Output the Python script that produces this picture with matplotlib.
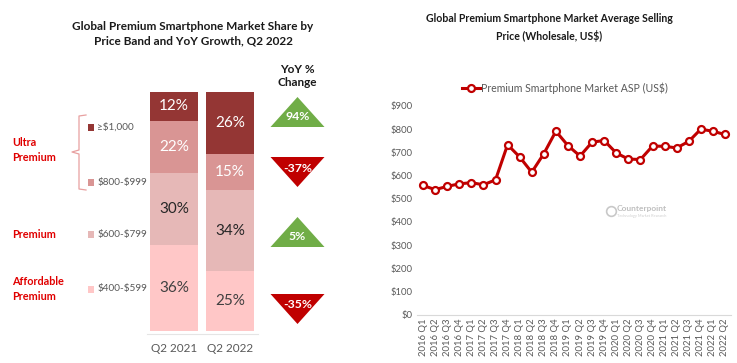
import matplotlib
matplotlib.use("Agg")
import matplotlib.pyplot as plt
from matplotlib.patches import Polygon
import numpy as np

plt.rcParams['font.family'] = ['Lato', 'DejaVu Sans']
plt.rcParams['text.parse_math'] = False

# ---------------- data ----------------
periods = ["Q2 2021", "Q2 2022"]
bands = ["$400-$599", "$600-$799", "$800-$999", "≥$1,000"]
share_2021 = [36, 30, 22, 12]
share_2022 = [25, 34, 15, 26]
yoy_change = [-35, 5, -37, 94]
segment_names = ["Affordable\nPremium", "Premium", "Ultra\nPremium"]

quarters = ["2016 Q1", "2016 Q2", "2016 Q3", "2016 Q4",
            "2017 Q1", "2017 Q2", "2017 Q3", "2017 Q4",
            "2018 Q1", "2018 Q2", "2018 Q3", "2018 Q4",
            "2019 Q1", "2019 Q2", "2019 Q3", "2019 Q4",
            "2020 Q1", "2020 Q2", "2020 Q3", "2020 Q4",
            "2021 Q1", "2021 Q2", "2021 Q3", "2021 Q4",
            "2022 Q1", "2022 Q2"]
asp = [557, 539, 553, 564, 569, 560, 581, 733,
       680, 614, 694, 791, 729, 684, 744, 751,
       697, 671, 669, 727, 726, 719, 747, 800,
       791, 777]
asp_ticks = [0, 100, 200, 300, 400, 500, 600, 700, 800, 900]

# ---------------- style ----------------
band_colors = ["#FFC7C7", "#E6B8B7", "#D99594", "#943634"]
band_text = ["#404040", "#262626", "white", "white"]
W, H = 737, 363
fig = plt.figure(figsize=(W / 100, H / 100), dpi=100)

def fx(px):
    return px / W

def fy(py):
    return 1 - py / H

# ---------------- left: stacked bars ----------------
ax1 = fig.add_axes([fx(146), fy(331), fx(112), (331 - 92) / H])
x = np.arange(len(periods))
data = np.array([share_2021, share_2022]).T  # bands x periods
bottom = np.zeros(len(periods))
for i, b in enumerate(bands):
    ax1.bar(x, data[i], bottom=bottom, width=0.84, color=band_colors[i],
            edgecolor="none")
    for j in range(len(periods)):
        ax1.text(x[j], bottom[j] + data[i][j] / 2, f"{data[i][j]}%",
                 ha="center", va="center", fontsize=11,
                 color=band_text[i])
    bottom += data[i]
ax1.set_xlim(-0.5, 1.5)
ax1.set_ylim(0, 100)
ax1.axis("off")

# overlay axes in pixel coordinates for annotations
ov = fig.add_axes([0, 0, 1, 1])
ov.set_xlim(0, W)
ov.set_ylim(H, 0)
ov.axis("off")
ov.patch.set_alpha(0)

ov.plot([147, 258], [334, 334], color="#E5E5E5", lw=0.8)
for j, p in enumerate(periods):
    ov.text(174 + j * 56.5, 349, p, ha="center", va="center",
            fontsize=8.5, color="#595959")

# title
ov.text(193, 34, "Global Premium Smartphone Market Share by\nPrice Band and YoY Growth, Q2 2022",
        ha="center", va="center", fontsize=8.5, fontweight="bold",
        color="#1a1a1a", linespacing=1.35)
ov.text(297, 76, "YoY %\nChange", ha="center", va="center", fontsize=8.5,
        fontweight="bold", color="#1a1a1a", linespacing=1.3)

# YoY triangles
tri_y = [309, 232, 172, 112]
for v, cy in zip(yoy_change, tri_y):
    cx = 297.5
    if v >= 0:
        poly = [(cx - 27, cy + 15), (cx + 27, cy + 15), (cx, cy - 15)]
        col = "#70AD47"
        ty = cy + 5
    else:
        poly = [(cx - 27, cy - 15), (cx + 27, cy - 15), (cx, cy + 15)]
        col = "#C00000"
        ty = cy - 4
    ov.add_patch(Polygon(poly, closed=True, color=col, lw=0))
    ov.text(cx, ty, f"{v}%", ha="center", va="center", fontsize=8.8,
            fontweight="bold", color="white")

# band legend
leg_y = [289, 234, 182, 127]
for i, b in enumerate(bands):
    ov.add_patch(plt.Rectangle((88, leg_y[i] - 3.5), 6, 7,
                               color=band_colors[i], lw=0))
    ov.text(97.5, leg_y[i], b, ha="left", va="center", fontsize=7.2,
            color="#595959")

# bracket
bc = "#E8A0A0"
ov.plot([86, 79, 79, 72, 79, 79, 86],
        [115, 116, 150, 152, 154, 189, 190], color=bc, lw=0.9)

# segment names
seg_y = [289, 234, 150]
for name, sy in zip(segment_names, seg_y):
    ov.text(12, sy, name, ha="left", va="center", fontsize=7.8,
            fontweight="bold", color="#E00000", linespacing=1.35)

# ---------------- right: ASP line ----------------
ax2 = fig.add_axes([fx(417), fy(314.5), fx(731 - 417), (314.5 - 106) / H])
xs = np.arange(len(quarters))
ax2.plot(xs, asp, color="#C00000", lw=2.2, marker="o", markersize=5,
         markerfacecolor="white", markeredgecolor="#C00000",
         markeredgewidth=1.6)
ax2.set_xlim(-0.5, len(quarters) - 0.5)
ax2.set_ylim(0, 900)
ax2.set_yticks(asp_ticks)
ax2.set_yticklabels([f"${t}" for t in asp_ticks])
ax2.set_xticks(xs)
ax2.set_xticklabels(quarters, rotation=90)
ax2.tick_params(axis="both", length=0, labelsize=6.8, colors="#595959",
                pad=3)
for s in ["top", "right", "left"]:
    ax2.spines[s].set_visible(False)
ax2.spines["bottom"].set_color("#D9D9D9")
ax2.spines["bottom"].set_linewidth(0.8)
ax2.patch.set_alpha(0)

ov.text(549, 28, "Global Premium Smartphone Market Average Selling\nPrice (Wholesale, US$)",
        ha="center", va="center", fontsize=7.6, fontweight="bold",
        color="#1a1a1a", linespacing=1.6)
ov.plot([462, 480], [88, 88], color="#C00000", lw=2.2)
ov.plot([471], [88], marker="o", markersize=5, markerfacecolor="white",
        markeredgecolor="#C00000", markeredgewidth=1.6)
ov.text(481, 88, "Premium Smartphone Market ASP (US$)", ha="left",
        va="center", fontsize=7.6, color="#595959")

# watermark
ov.text(617, 209, "Counterpoint", ha="left", va="center", fontsize=6,
        fontweight="bold", color="#BFBFBF")
ov.text(617, 215.5, "Technology Market Research", ha="left", va="center",
        fontsize=2.8, color="#CFCFCF")
ov.plot([611], [211], marker="o", markersize=7, markerfacecolor="none",
        markeredgecolor="#C8C8C8", markeredgewidth=1.2)

fig.savefig("out.png", dpi=100)
